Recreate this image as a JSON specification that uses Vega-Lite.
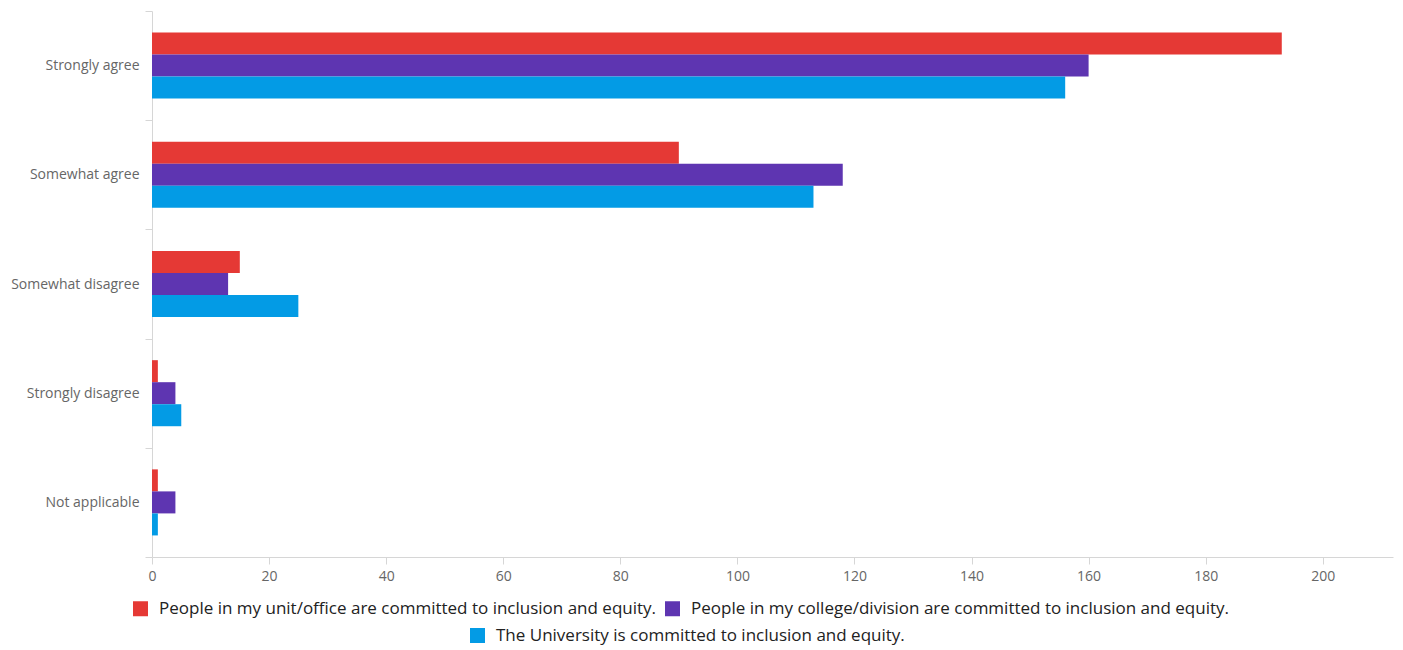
{
  "$schema": "https://vega.github.io/schema/vega-lite/v6.json",
  "width": 1241,
  "height": 546,
  "autosize": {"type": "none"},
  "padding": {"left": 152, "top": 11, "right": 10, "bottom": 93},
  "background": "#ffffff",
  "config": {"view": {"stroke": null}, "font": "Open Sans"},
  "data": {
    "values": [
      {"response": "Strongly agree", "series": "People in my unit/office are committed to inclusion and equity.", "count": 193},
      {"response": "Strongly agree", "series": "People in my college/division are committed to inclusion and equity.", "count": 160},
      {"response": "Strongly agree", "series": "The University is committed to inclusion and equity.", "count": 156},
      {"response": "Somewhat agree", "series": "People in my unit/office are committed to inclusion and equity.", "count": 90},
      {"response": "Somewhat agree", "series": "People in my college/division are committed to inclusion and equity.", "count": 118},
      {"response": "Somewhat agree", "series": "The University is committed to inclusion and equity.", "count": 113},
      {"response": "Somewhat disagree", "series": "People in my unit/office are committed to inclusion and equity.", "count": 15},
      {"response": "Somewhat disagree", "series": "People in my college/division are committed to inclusion and equity.", "count": 13},
      {"response": "Somewhat disagree", "series": "The University is committed to inclusion and equity.", "count": 25},
      {"response": "Strongly disagree", "series": "People in my unit/office are committed to inclusion and equity.", "count": 1},
      {"response": "Strongly disagree", "series": "People in my college/division are committed to inclusion and equity.", "count": 4},
      {"response": "Strongly disagree", "series": "The University is committed to inclusion and equity.", "count": 5},
      {"response": "Not applicable", "series": "People in my unit/office are committed to inclusion and equity.", "count": 1},
      {"response": "Not applicable", "series": "People in my college/division are committed to inclusion and equity.", "count": 4},
      {"response": "Not applicable", "series": "The University is committed to inclusion and equity.", "count": 1}
    ]
  },
  "mark": {"type": "bar", "strokeWidth": 0},
  "encoding": {
    "y": {
      "field": "response",
      "type": "nominal",
      "sort": ["Strongly agree", "Somewhat agree", "Somewhat disagree", "Strongly disagree", "Not applicable"],
      "scale": {"paddingInner": 0, "paddingOuter": 0},
      "axis": {
        "title": null,
        "tickBand": "extent",
        "domainColor": "#d6d6d6",
        "tickColor": "#d6d6d6",
        "tickSize": 7,
        "labelFontSize": 14,
        "labelColor": "#666666",
        "labelPadding": 6
      }
    },
    "yOffset": {
      "field": "series",
      "type": "nominal",
      "sort": [
        "People in my unit/office are committed to inclusion and equity.",
        "People in my college/division are committed to inclusion and equity.",
        "The University is committed to inclusion and equity."
      ],
      "scale": {"paddingInner": 0, "paddingOuter": 0.98}
    },
    "x": {
      "field": "count",
      "type": "quantitative",
      "scale": {"domain": [0, 212], "nice": false},
      "axis": {
        "title": null,
        "grid": false,
        "values": [0, 20, 40, 60, 80, 100, 120, 140, 160, 180, 200],
        "domainColor": "#d6d6d6",
        "tickColor": "#d6d6d6",
        "tickSize": 7,
        "labelFontSize": 14,
        "labelColor": "#666666",
        "labelPadding": 5,
        "labelFlush": false
      }
    },
    "fill": {
      "field": "series",
      "type": "nominal",
      "scale": {
        "domain": [
          "People in my unit/office are committed to inclusion and equity.",
          "People in my college/division are committed to inclusion and equity.",
          "The University is committed to inclusion and equity."
        ],
        "range": ["#e53935", "#5e35b1", "#039be5"]
      },
      "legend": {
        "title": null,
        "orient": "none",
        "legendX": -20,
        "legendY": 589,
        "direction": "horizontal",
        "values": [
          "People in my unit/office are committed to inclusion and equity.",
          "People in my college/division are committed to inclusion and equity."
        ],
        "symbolType": "square",
        "symbolSize": 225,
        "symbolStrokeWidth": 0,
        "labelFontSize": 17,
        "labelColor": "#222222",
        "labelLimit": 0,
        "labelOffset": 10,
        "columnPadding": 7
      }
    },
    "stroke": {
      "field": "series",
      "type": "nominal",
      "scale": {
        "domain": [
          "The University is committed to inclusion and equity.",
          "People in my unit/office are committed to inclusion and equity.",
          "People in my college/division are committed to inclusion and equity."
        ],
        "range": ["#039be5", "#e53935", "#5e35b1"]
      },
      "legend": {
        "title": null,
        "orient": "none",
        "legendX": 317,
        "legendY": 616,
        "direction": "horizontal",
        "values": ["The University is committed to inclusion and equity."],
        "symbolType": "square",
        "symbolSize": 225,
        "symbolStrokeWidth": 0,
        "symbolFillColor": "#039be5",
        "labelFontSize": 17,
        "labelColor": "#222222",
        "labelLimit": 0,
        "labelOffset": 10,
        "encode": {"symbols": {"update": {"fill": {"value": "#039be5"}, "strokeWidth": {"value": 0}}}}
      }
    }
  }
}
